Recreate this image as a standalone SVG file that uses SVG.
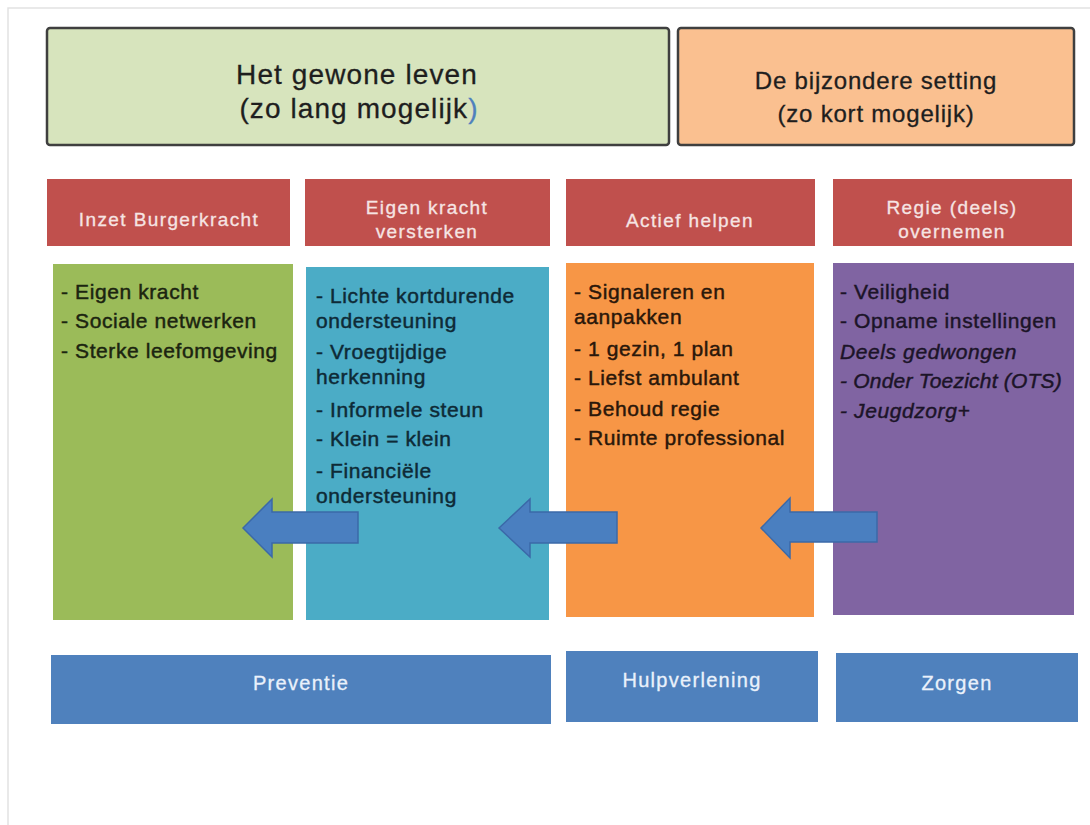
<svg xmlns="http://www.w3.org/2000/svg" width="1090" height="825" viewBox="0 0 1090 825">
<style>
  text { font-family: "Liberation Sans", Arial, sans-serif; }
  .top { stroke: #3f3f3f; stroke-width: 2.5; }
  .t1 { font-size: 28px; fill: #1e1e1e; stroke: #1e1e1e; stroke-width: 0.3; letter-spacing: 1.1px; text-anchor: middle; }
  .t2 { font-size: 24px; fill: #1e1e1e; stroke: #1e1e1e; stroke-width: 0.3; letter-spacing: 0.8px; text-anchor: middle; }
  .hdr { fill: #c0504d; }
  .ht { font-size: 19px; fill: #f6e4e3; stroke: #f6e4e3; stroke-width: 0.3; letter-spacing: 1.4px; text-anchor: middle; }
  .ct { font-size: 21px; letter-spacing: 0.6px; stroke-width: 0.45; }
  .bt { fill: #4f81bd; }
  .btt { font-size: 20px; fill: #eaf1fb; stroke: #eaf1fb; stroke-width: 0.3; letter-spacing: 1.3px; text-anchor: middle; }
  .arrow { fill: #4a7fc0; stroke: #3b69a8; stroke-width: 1.5; stroke-linejoin: miter; }
</style>
<rect x="0" y="0" width="1090" height="825" fill="#ffffff"/>
<rect x="8" y="8" width="1100" height="840" fill="none" stroke="#e2e2e2" stroke-width="1.5"/>

<g id="node-gewone-leven">
  <rect class="top" x="47" y="28" width="622" height="117" rx="3" fill="#d7e4bd"/>
  <text class="t1" x="357" y="84">Het gewone leven</text>
  <text class="t1" x="359" y="118">(zo lang mogelijk<tspan fill="#4f81bd" stroke="#4f81bd">)</tspan></text>
</g>
<g id="node-bijzondere-setting">
  <rect class="top" x="678" y="28" width="396" height="117" rx="3" fill="#fac090"/>
  <text class="t2" x="876" y="89">De bijzondere setting</text>
  <text class="t2" x="876" y="122">(zo kort mogelijk)</text>
</g>

<g id="node-inzet-burgerkracht">
  <rect class="hdr" x="47" y="179" width="243" height="67"/>
  <text class="ht" x="169" y="226">Inzet Burgerkracht</text>
</g>
<g id="node-eigen-kracht-versterken">
  <rect class="hdr" x="305" y="179" width="245" height="67"/>
  <text class="ht" x="427" y="214">Eigen kracht</text>
  <text class="ht" x="427" y="238">versterken</text>
</g>
<g id="node-actief-helpen">
  <rect class="hdr" x="566" y="179" width="249" height="67"/>
  <text class="ht" x="690" y="227">Actief helpen</text>
</g>
<g id="node-regie-overnemen">
  <rect class="hdr" x="833" y="179" width="239" height="67"/>
  <text class="ht" x="952" y="214">Regie (deels)</text>
  <text class="ht" x="952" y="238">overnemen</text>
</g>

<g id="node-green">
  <rect x="53" y="264" width="240" height="356" fill="#9bbb59"/>
  <g class="ct" fill="#1b2410" stroke="#1b2410">
    <text x="61" y="299">- Eigen kracht</text>
    <text x="61" y="328">- Sociale netwerken</text>
    <text x="61" y="358">- Sterke leefomgeving</text>
  </g>
</g>
<g id="node-blue">
  <rect x="306" y="267" width="243" height="353" fill="#4bacc6"/>
  <g class="ct" fill="#0e2a36" stroke="#0e2a36">
    <text x="316" y="303">- Lichte kortdurende</text>
    <text x="316" y="328">ondersteuning</text>
    <text x="316" y="359">- Vroegtijdige</text>
    <text x="316" y="384">herkenning</text>
    <text x="316" y="417">- Informele steun</text>
    <text x="316" y="446">- Klein = klein</text>
    <text x="316" y="478">- Financiële</text>
    <text x="316" y="503">ondersteuning</text>
  </g>
</g>
<g id="node-orange">
  <rect x="566" y="263" width="248" height="354" fill="#f79646"/>
  <g class="ct" fill="#2a170a" stroke="#2a170a">
    <text x="574" y="299">- Signaleren en</text>
    <text x="574" y="324">aanpakken</text>
    <text x="574" y="356">- 1 gezin, 1 plan</text>
    <text x="574" y="385">- Liefst ambulant</text>
    <text x="574" y="416">- Behoud regie</text>
    <text x="574" y="445">- Ruimte professional</text>
  </g>
</g>
<g id="node-purple">
  <rect x="833" y="263" width="241" height="352" fill="#8064a2"/>
  <g class="ct" fill="#1c1428" stroke="#1c1428">
    <text x="840" y="299">- Veiligheid</text>
    <text x="840" y="328">- Opname instellingen</text>
    <text x="840" y="359" font-style="italic">Deels gedwongen</text>
    <text x="840" y="388" font-style="italic" letter-spacing="0.2">- Onder Toezicht (OTS)</text>
    <text x="840" y="418" font-style="italic">- Jeugdzorg+</text>
  </g>
</g>

<g id="connectors">
  <polygon class="arrow" points="243,528 272,499 272,512 358,512 358,543 272,543 272,557"/>
  <polygon class="arrow" points="499,528 530,499 530,512 617,512 617,543 530,543 530,557"/>
  <polygon class="arrow" points="761,528 790,498 790,512 877,512 877,542 790,542 790,558"/>
</g>

<g id="node-preventie">
  <rect class="bt" x="51" y="655" width="500" height="69"/>
  <text class="btt" x="301" y="690">Preventie</text>
</g>
<g id="node-hulpverlening">
  <rect class="bt" x="566" y="651" width="252" height="71"/>
  <text class="btt" x="692" y="687">Hulpverlening</text>
</g>
<g id="node-zorgen">
  <rect class="bt" x="836" y="653" width="242" height="69"/>
  <text class="btt" x="957" y="690">Zorgen</text>
</g>
</svg>
